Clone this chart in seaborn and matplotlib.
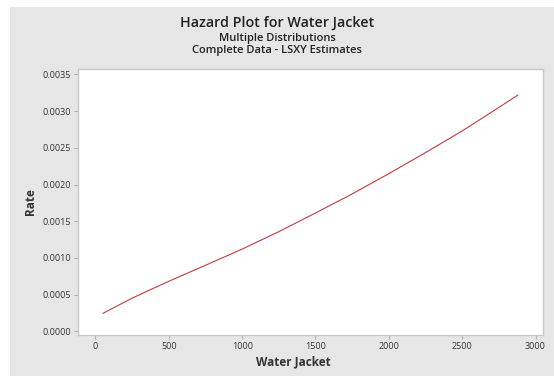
import matplotlib
matplotlib.use("Agg")
import matplotlib.pyplot as plt
from matplotlib.patches import Rectangle
import seaborn as sns
import pandas as pd

# Hazard rate of the fitted distribution at selected Water Jacket values
water_jacket = [50, 250, 500, 750, 1000, 1250, 1500, 1750, 2000, 2250, 2500, 2750, 2880]
rate = [0.000244, 0.000452, 0.000682, 0.000900, 0.001120, 0.001358, 0.001612,
        0.001872, 0.002148, 0.002435, 0.002730, 0.003050, 0.003220]

x_ticks = [0, 500, 1000, 1500, 2000, 2500, 3000]
y_ticks = [0.0000, 0.0005, 0.0010, 0.0015, 0.0020, 0.0025, 0.0030, 0.0035]

df = pd.DataFrame({"Water Jacket": water_jacket, "Rate": rate})

sns.set_theme(style="white")
plt.rcParams["font.family"] = ["Open Sans", "DejaVu Sans"]

W, H = 554, 377
fig = plt.figure(figsize=(W / 100, H / 100), dpi=100, facecolor="white")
bg = Rectangle((10 / W, 1 / H), 1 - 10 / W, (370 - 1) / H,
               transform=fig.transFigure, facecolor="#e6e6e6",
               edgecolor="none", zorder=-10)
fig.patches.append(bg)

ax = fig.add_axes([77.7 / W, 1 - 334.7 / H, (543.3 - 77.7) / W, (334.7 - 69.3) / H])
ax.set_zorder(1)
ax.set_facecolor("white")

sns.lineplot(data=df, x="Water Jacket", y="Rate", ax=ax, color="#c23b40", linewidth=0.8)

ax.set_xlim(-121, 3053)
ax.set_ylim(-0.000046, 0.00357)
ax.set_xticks(x_ticks)
ax.set_xticklabels([str(t) for t in x_ticks])
ax.set_yticks(y_ticks)
ax.set_yticklabels([f"{t:.4f}" for t in y_ticks])

for s in ax.spines.values():
    s.set_color("#c8c8c8")
    s.set_linewidth(1.0)

ax.tick_params(axis="both", which="major", direction="out", length=3, width=0.8,
               color="#b0b0b0", labelsize=6.5, labelcolor="#333333", pad=2,
               bottom=True, left=True)

ax.set_xlabel("Water Jacket", fontsize=8.5, fontweight="bold", color="#333333")
ax.xaxis.set_label_coords((293 - 77.7) / (543.3 - 77.7), -(355 - 334.7) / (334.7 - 69.3))
ax.set_ylabel("Rate", fontsize=8.5, fontweight="bold", color="#333333")
ax.yaxis.set_label_coords(-(77.7 - 37) / (543.3 - 77.7), 0.5)

fig.text(0.5, 1 - 23 / H, "Hazard Plot for Water Jacket", ha="center", va="center",
         fontsize=10.3, fontweight="semibold", color="#222222")
fig.text(0.5, 1 - 38 / H, "Multiple Distributions", ha="center", va="center",
         fontsize=8.0, fontweight="semibold", color="#222222")
fig.text(0.5, 1 - 50 / H, "Complete Data - LSXY Estimates", ha="center", va="center",
         fontsize=8.0, fontweight="semibold", color="#222222")

fig.savefig("out.png", dpi=100, facecolor="white")
